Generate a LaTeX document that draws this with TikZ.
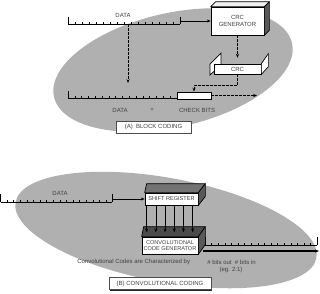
\documentclass[tikz,border=0pt]{standalone}
\usepackage{fontspec}
\setmainfont{Liberation Sans}
\usetikzlibrary{arrows.meta,shadows}

\begin{document}
\begin{tikzpicture}[x=1pt, y=-1pt, >={Stealth[length=3.8pt,width=3pt]}, line width=0.6pt,
  font=\fontsize{6}{6.6}\selectfont,
  blob/.style={fill=black!31},
  face/.style={draw, fill=white, line width=0.7pt, align=center, inner sep=0pt, text=black!75},
  shade/.style={draw, fill=black!65, line width=0.7pt, line join=round},
  lid/.style={draw, fill=black!6, line width=0.7pt, line join=round},
  note/.style={text=black!75, inner sep=1pt},
  caption/.style={draw=black!70, fill=white, line width=0.5pt, text=black!75, minimum height=11pt,
    drop shadow={shadow xshift=1.3pt, shadow yshift=-1.3pt, fill=black!85, opacity=1}},
  hop/.style={dashed, dash pattern=on 2.5pt off 1.5pt, ->}]
  \useasboundingbox (0,0) rectangle (320,293);

  % (A) block coding
  \fill[blob, rotate around={12.7:(173,70)}] (173,70) ellipse [x radius=122, y radius=57];

  \coordinate (d1s) at (68,24);
  \coordinate (d1e) at (180,24);
  \draw (d1s) -- (d1e);
  \draw (d1s) -- ++(0,-7) (d1e) -- ++(0,-7);
  \foreach \x in {75,82,...,174} \draw (\x,24) -- (\x,21.5);
  \node[note] (data1) at (123,15) {DATA};

  \node[face, minimum width=53pt, minimum height=28pt] (crcgen) at (237.5,21) {CRC\\GENERATOR};
  \draw[lid] (crcgen.north west) -- ++(5,-5) -- ([shift={(5,-5)}]crcgen.north east) -- (crcgen.north east) -- cycle;
  \draw[shade] (crcgen.north east) -- ++(5,-5) -- ([shift={(5,-5)}]crcgen.south east) -- (crcgen.south east) -- cycle;
  \draw[->] (d1e |- crcgen.west) -- (crcgen.west);

  \draw[face] (210,64) -- (221,53) -- (221,65) -- (210,75) -- cycle;
  \node[face, minimum width=47pt, minimum height=10pt] (crc) at (237.5,69) {CRC};
  \draw[face] (crc.north east) -- ++(7,-10) -- ++(0,13) -- (crc.south east) -- cycle;
  \draw[hop] (crcgen.south) -- ([yshift=6pt]crc.north);

  \node[draw, fill=white, line width=0.9pt, minimum width=34pt, minimum height=7pt, inner sep=0pt] (chk) at (194,95.5) {};
  \coordinate (d2s) at (68,98);
  \draw (d2s) -- (chk.west |- d2s);
  \draw (d2s) -- ++(0,-7);
  \foreach \x in {74.8,81.6,...,171} \draw (\x,98) -- (\x,95.5);
  \draw[hop] (crc.south) -- ++(0,11) -| (chk.north);
  \coordinate (out1) at (257,95.5);
  \draw[hop] (chk.east) -- (out1);

  \coordinate (split) at (128,24);
  \coordinate (drop) at (128,83);
  \draw[hop] (split) -- (drop);

  \node[note] (data2) at (120,110) {DATA};
  \node[note] (plus) at (152,110) {+};
  \node[note] (bits) at (197,110) {CHECK BITS};
  \node[caption, minimum width=75pt] (capA) at (153.5,127) {(A)\ \ BLOCK CODING};

  % (B) convolutional coding
  \fill[blob, rotate around={-10.5:(166,230)}] (166,230) ellipse [x radius=153, y radius=52];

  \coordinate (d3s) at (0.5,202);
  \coordinate (d3e) at (112,202);
  \draw (d3s) -- (d3e);
  \draw (d3s) -- ++(0,-8) (d3e) -- ++(0,-8);
  \foreach \x in {7,13.6,...,107} \draw (\x,202) -- (\x,199.5);
  \node[note] (data3) at (60,193) {DATA};

  \node[face, minimum width=53pt, minimum height=12pt, font=\fontsize{5.6}{6}\selectfont] (shreg) at (171.5,199) {SHIFT REGISTER};
  \draw[shade, fill=black!55] (shreg.north west) -- ++(2,-9) -- ([shift={(7,-9)}]shreg.north east) -- (shreg.north east) -- cycle;
  \draw[shade] (shreg.north east) -- ++(7,-9) -- ([shift={(7,-9)}]shreg.south east) -- (shreg.south east) -- cycle;
  \draw[->] (d3e |- shreg.west) -- (shreg.west);

  \node[face, minimum width=56pt, minimum height=17pt, font=\fontsize{5.6}{6.2}\selectfont] (conv) at (170,245.5) {CONVOLUTIONAL\\CODE GENERATOR};
  \draw[shade, fill=black!70] (conv.north west) -- ++(2,-10) -- ([shift={(7,-10)}]conv.north east) -- (conv.north east) -- cycle;
  \draw[shade] (conv.north east) -- ++(7,-10) -- ([shift={(7,-10)}]conv.south east) -- (conv.south east) -- cycle;

  \foreach \dx in {2,11.2,...,48.1}
    \draw[->] ([xshift=\dx pt]shreg.south west) -- ++(0,27);

  \coordinate (d4s) at (205,245);
  \coordinate (d4e) at (317,245);
  \draw (d4s) -- (d4e);
  \draw (d4s) -- ++(0,-8) (d4e) -- ++(0,-8);
  \foreach \x in {211.6,218.2,...,312} \draw (\x,245) -- (\x,242.5);
  \coordinate (tail) at (203,251);
  \coordinate (out2) at (319,251);
  \draw[->, line width=1.1pt] (tail) -- (out2);

  \node[note, anchor=west] (char) at (76,262) {Convolutional Codes are Characterized by};
  \node[note, anchor=west] (ratio) at (206,262) {\# bits out \ \# bits in};
  \node[note] (eg) at (231,269.5) {(eg. 2:1)};
  \node[caption, minimum width=102pt] (capB) at (160,283.5) {(B)\ CONVOLUTIONAL CODING};
\end{tikzpicture}
\end{document}
